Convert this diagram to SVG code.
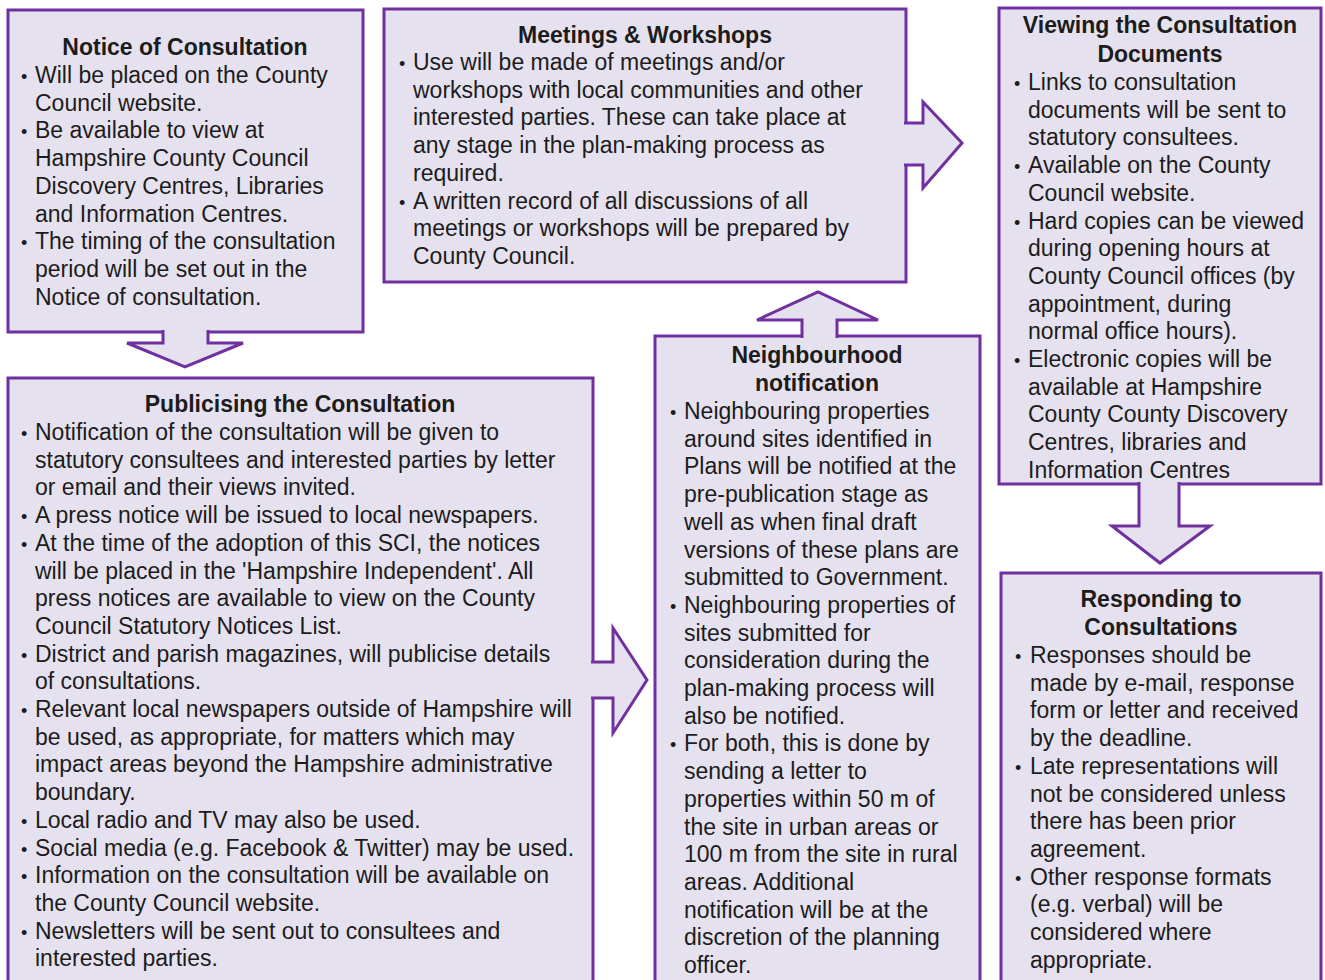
<svg xmlns="http://www.w3.org/2000/svg" width="1325" height="980" viewBox="0 0 1325 980">
<style>
.box{fill:#e6e1ee;stroke:#7030a0;stroke-width:3}
.arr{fill:#e6e1ee;stroke:#7030a0;stroke-width:3;stroke-linejoin:miter}
text{font-family:"Liberation Sans",Arial,sans-serif;font-size:23px;fill:#1c1c1c}
.t{font-weight:bold;text-anchor:middle}
.b{font-size:18px}
</style>
<rect width="1325" height="980" fill="#ffffff"/>

<g id="notice">
<rect class="box" x="8" y="10" width="355" height="322"/>
<text class="t" x="185" y="55">Notice of Consultation</text>
<text>
<tspan class="b" x="21" y="83">•</tspan><tspan x="35" dy="0">Will be placed on the County</tspan>
<tspan x="35" dy="27.7">Council website.</tspan>
<tspan class="b" x="21" dy="27.7">•</tspan><tspan x="35" dy="0">Be available to view at</tspan>
<tspan x="35" dy="27.7">Hampshire County Council</tspan>
<tspan x="35" dy="27.7">Discovery Centres, Libraries</tspan>
<tspan x="35" dy="27.7">and Information Centres.</tspan>
<tspan class="b" x="21" dy="27.7">•</tspan><tspan x="35" dy="0">The timing of the consultation</tspan>
<tspan x="35" dy="27.7">period will be set out in the</tspan>
<tspan x="35" dy="27.7">Notice of consultation.</tspan>
</text>
</g>

<g id="meetings">
<rect class="box" x="384" y="9" width="522" height="273"/>
<text class="t" x="645" y="43">Meetings &amp; Workshops</text>
<text>
<tspan class="b" x="399" y="70">•</tspan><tspan x="413" dy="0">Use will be made of meetings and/or</tspan>
<tspan x="413" dy="27.7">workshops with local communities and other</tspan>
<tspan x="413" dy="27.7">interested parties. These can take place at</tspan>
<tspan x="413" dy="27.7">any stage in the plan-making process as</tspan>
<tspan x="413" dy="27.7">required.</tspan>
<tspan class="b" x="399" dy="27.7">•</tspan><tspan x="413" dy="0">A written record of all discussions of all</tspan>
<tspan x="413" dy="27.7">meetings or workshops will be prepared by</tspan>
<tspan x="413" dy="27.7">County Council.</tspan>
</text>
</g>

<g id="viewing">
<rect class="box" x="999" y="8" width="322" height="476"/>
<text class="t" x="1160" y="33">Viewing the Consultation</text>
<text class="t" x="1160" y="62">Documents</text>
<text>
<tspan class="b" x="1014" y="90">•</tspan><tspan x="1028" dy="0">Links to consultation</tspan>
<tspan x="1028" dy="27.7">documents will be sent to</tspan>
<tspan x="1028" dy="27.7">statutory consultees.</tspan>
<tspan class="b" x="1014" dy="27.7">•</tspan><tspan x="1028" dy="0">Available on the County</tspan>
<tspan x="1028" dy="27.7">Council website.</tspan>
<tspan class="b" x="1014" dy="27.7">•</tspan><tspan x="1028" dy="0">Hard copies can be viewed</tspan>
<tspan x="1028" dy="27.7">during opening hours at</tspan>
<tspan x="1028" dy="27.7">County Council offices (by</tspan>
<tspan x="1028" dy="27.7">appointment, during</tspan>
<tspan x="1028" dy="27.7">normal office hours).</tspan>
<tspan class="b" x="1014" dy="27.7">•</tspan><tspan x="1028" dy="0">Electronic copies will be</tspan>
<tspan x="1028" dy="27.7">available at Hampshire</tspan>
<tspan x="1028" dy="27.7">County County Discovery</tspan>
<tspan x="1028" dy="27.7">Centres, libraries and</tspan>
<tspan x="1028" dy="27.7">Information Centres</tspan>
</text>
</g>

<g id="publicising">
<rect class="box" x="8" y="378" width="585" height="620"/>
<text class="t" x="300" y="412">Publicising the Consultation</text>
<text>
<tspan class="b" x="21" y="440">•</tspan><tspan x="35" dy="0">Notification of the consultation will be given to</tspan>
<tspan x="35" dy="27.7">statutory consultees and interested parties by letter</tspan>
<tspan x="35" dy="27.7">or email and their views invited.</tspan>
<tspan class="b" x="21" dy="27.7">•</tspan><tspan x="35" dy="0">A press notice will be issued to local newspapers.</tspan>
<tspan class="b" x="21" dy="27.7">•</tspan><tspan x="35" dy="0">At the time of the adoption of this SCI, the notices</tspan>
<tspan x="35" dy="27.7">will be placed in the 'Hampshire Independent'. All</tspan>
<tspan x="35" dy="27.7">press notices are available to view on the County</tspan>
<tspan x="35" dy="27.7">Council Statutory Notices List.</tspan>
<tspan class="b" x="21" dy="27.7">•</tspan><tspan x="35" dy="0">District and parish magazines, will publicise details</tspan>
<tspan x="35" dy="27.7">of consultations.</tspan>
<tspan class="b" x="21" dy="27.7">•</tspan><tspan x="35" dy="0">Relevant local newspapers outside of Hampshire will</tspan>
<tspan x="35" dy="27.7">be used, as appropriate, for matters which may</tspan>
<tspan x="35" dy="27.7">impact areas beyond the Hampshire administrative</tspan>
<tspan x="35" dy="27.7">boundary.</tspan>
<tspan class="b" x="21" dy="27.7">•</tspan><tspan x="35" dy="0">Local radio and TV may also be used.</tspan>
<tspan class="b" x="21" dy="27.7">•</tspan><tspan x="35" dy="0">Social media (e.g. Facebook &amp; Twitter) may be used.</tspan>
<tspan class="b" x="21" dy="27.7">•</tspan><tspan x="35" dy="0">Information on the consultation will be available on</tspan>
<tspan x="35" dy="27.7">the County Council website.</tspan>
<tspan class="b" x="21" dy="27.7">•</tspan><tspan x="35" dy="0">Newsletters will be sent out to consultees and</tspan>
<tspan x="35" dy="27.7">interested parties.</tspan>
</text>
</g>

<g id="neighbourhood">
<rect class="box" x="655" y="336" width="325" height="660"/>
<text class="t" x="817" y="363">Neighbourhood</text>
<text class="t" x="817" y="391">notification</text>
<text>
<tspan class="b" x="670" y="419">•</tspan><tspan x="684" dy="0">Neighbouring properties</tspan>
<tspan x="684" dy="27.7">around sites identified in</tspan>
<tspan x="684" dy="27.7">Plans will be notified at the</tspan>
<tspan x="684" dy="27.7">pre-publication stage as</tspan>
<tspan x="684" dy="27.7">well as when final draft</tspan>
<tspan x="684" dy="27.7">versions of these plans are</tspan>
<tspan x="684" dy="27.7">submitted to Government.</tspan>
<tspan class="b" x="670" dy="27.7">•</tspan><tspan x="684" dy="0">Neighbouring properties of</tspan>
<tspan x="684" dy="27.7">sites submitted for</tspan>
<tspan x="684" dy="27.7">consideration during the</tspan>
<tspan x="684" dy="27.7">plan-making process will</tspan>
<tspan x="684" dy="27.7">also be notified.</tspan>
<tspan class="b" x="670" dy="27.7">•</tspan><tspan x="684" dy="0">For both, this is done by</tspan>
<tspan x="684" dy="27.7">sending a letter to</tspan>
<tspan x="684" dy="27.7">properties within 50 m of</tspan>
<tspan x="684" dy="27.7">the site in urban areas or</tspan>
<tspan x="684" dy="27.7">100 m from the site in rural</tspan>
<tspan x="684" dy="27.7">areas. Additional</tspan>
<tspan x="684" dy="27.7">notification will be at the</tspan>
<tspan x="684" dy="27.7">discretion of the planning</tspan>
<tspan x="684" dy="27.7">officer.</tspan>
</text>
</g>

<g id="responding">
<rect class="box" x="1001" y="573" width="320" height="420"/>
<text class="t" x="1161" y="607">Responding to</text>
<text class="t" x="1161" y="635">Consultations</text>
<text>
<tspan class="b" x="1015" y="663">•</tspan><tspan x="1030" dy="0">Responses should be</tspan>
<tspan x="1030" dy="27.7">made by e-mail, response</tspan>
<tspan x="1030" dy="27.7">form or letter and received</tspan>
<tspan x="1030" dy="27.7">by the deadline.</tspan>
<tspan class="b" x="1015" dy="27.7">•</tspan><tspan x="1030" dy="0">Late representations will</tspan>
<tspan x="1030" dy="27.7">not be considered unless</tspan>
<tspan x="1030" dy="27.7">there has been prior</tspan>
<tspan x="1030" dy="27.7">agreement.</tspan>
<tspan class="b" x="1015" dy="27.7">•</tspan><tspan x="1030" dy="0">Other response formats</tspan>
<tspan x="1030" dy="27.7">(e.g. verbal) will be</tspan>
<tspan x="1030" dy="27.7">considered where</tspan>
<tspan x="1030" dy="27.7">appropriate.</tspan>
</text>
</g>

<g id="connectors">
<path class="arr" d="M163,330 L163,343 L127,343 L185,367 L243,343 L208,343 L208,330"/>
<path class="arr" d="M904,123 L923,123 L923,102 L962,143 L923,188 L923,165 L904,165"/>
<path class="arr" d="M802,338 L802,320 L757,320 L818,292 L878,320 L837,320 L837,338"/>
<path class="arr" d="M1139,482 L1139,526 L1112,526 L1160,563 L1210,526 L1179,526 L1179,482"/>
<path class="arr" d="M591,662 L613,662 L613,628 L647,680 L613,733 L613,698 L591,698"/>
</g>
</svg>
